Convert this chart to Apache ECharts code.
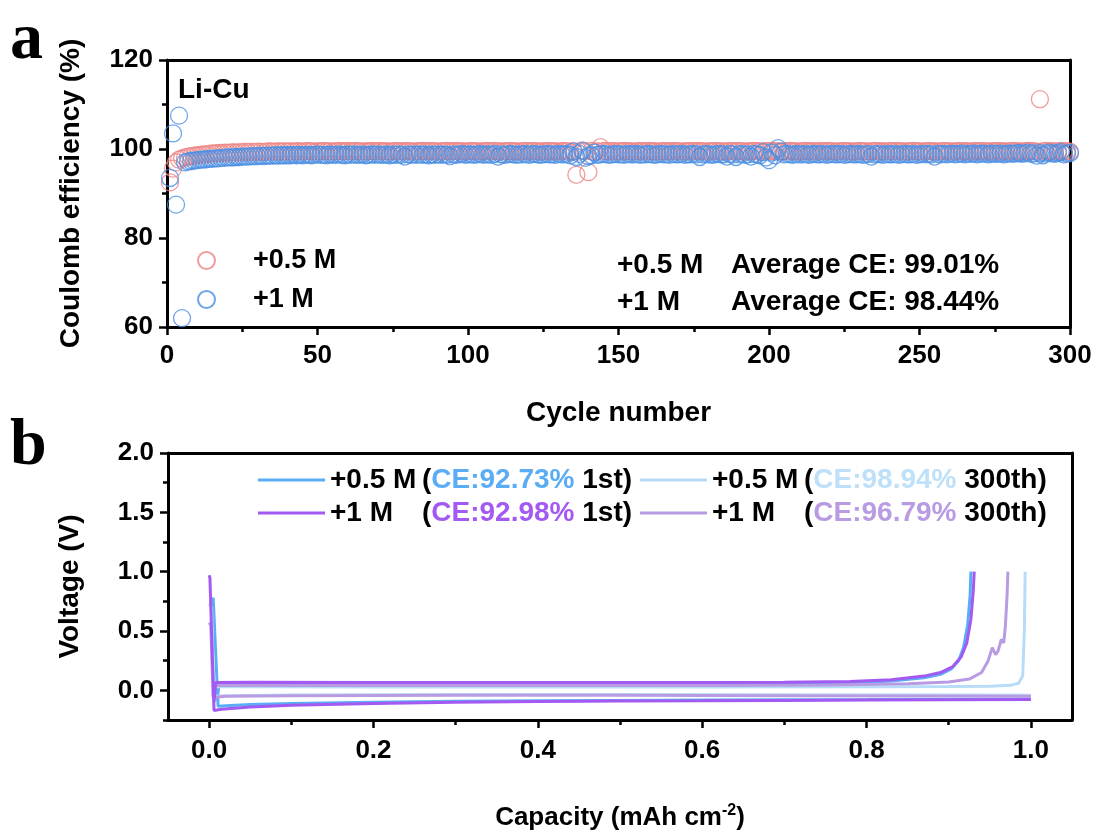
<!DOCTYPE html>
<html>
<head>
<meta charset="utf-8">
<script src="https://cdn.jsdelivr.net/npm/echarts@6/dist/echarts.min.js"></script>
<style>html,body{margin:0;padding:0;background:#fff}#c{width:1099px;height:832px}</style>
</head>
<body>
<div id="c"></div>
<script>
// ---------- Panel a: Coulombic efficiency per cycle (cycle 1..300) ----------
const ceHalfM = [
92.5,95.6,97.0,97.6,97.9,98.1,98.3,98.4,98.5,98.6,98.7,98.8,98.8,98.9,99.0,99.0,99.1,99.1,99.2,99.2,
99.2,99.3,99.2,99.3,99.3,99.4,99.3,99.4,99.3,99.4,99.4,99.3,99.4,99.5,99.4,99.4,99.5,99.4,99.5,99.4,
99.5,99.4,99.5,99.5,99.4,99.5,99.6,99.5,99.4,99.5,99.5,99.6,99.5,99.5,99.4,99.5,99.6,99.5,99.5,99.6,
99.5,99.5,99.6,99.5,99.4,99.5,99.5,99.6,99.5,99.5,99.6,99.5,99.5,99.4,99.5,99.6,99.5,99.5,99.5,99.6,
99.5,99.4,99.5,99.5,99.6,99.5,99.5,99.6,99.5,99.4,99.5,99.5,99.6,99.5,99.5,99.6,99.5,99.5,99.4,99.5,
99.6,99.5,99.5,99.4,99.5,99.6,99.5,99.5,99.6,99.5,99.4,99.5,99.5,99.6,99.5,99.5,99.4,99.5,99.6,99.5,
99.5,99.6,99.5,99.4,99.5,99.5,99.6,99.5,99.5,99.4,99.5,99.6,99.5,99.3,99.6,94.2,99.4,99.7,99.5,94.8,
99.6,99.4,99.5,100.4,99.6,99.5,99.5,99.6,99.4,99.5,99.5,99.6,99.5,99.5,99.4,99.5,99.6,99.5,99.5,99.6,
99.5,99.5,99.4,99.5,99.6,99.5,99.5,99.5,99.6,99.5,99.4,99.5,99.5,99.6,99.5,99.5,99.6,99.5,99.4,99.5,
99.5,99.6,99.5,99.5,99.4,99.5,99.6,99.5,99.5,99.6,99.5,99.4,99.5,99.5,99.6,99.5,99.5,99.4,99.6,99.5,
99.5,99.6,99.5,99.4,99.5,99.5,99.6,99.5,99.5,99.4,99.5,99.6,99.5,99.5,99.5,99.4,99.6,99.5,99.5,99.6,
99.5,99.4,99.5,99.5,99.6,99.5,99.5,99.4,99.5,99.6,99.5,99.5,99.4,99.5,99.6,99.5,99.5,99.5,99.4,99.6,
99.5,99.5,99.6,99.5,99.4,99.5,99.5,99.6,99.5,99.5,99.4,99.5,99.6,99.5,99.5,99.4,99.5,99.6,99.5,99.5,
99.4,99.5,99.6,99.5,99.5,99.5,99.4,99.6,99.5,99.5,99.6,99.5,99.4,99.5,99.5,99.6,99.5,99.5,99.4,99.5,
99.6,99.5,99.5,99.4,99.5,99.6,99.5,99.5,99.4,111.2,99.5,99.6,99.5,99.5,99.4,99.5,99.6,99.5,99.5,99.4
];
const ceOneM = [
93.5,103.5,87.5,107.5,62.0,97.0,97.2,97.3,97.4,97.5,97.6,97.6,97.7,97.8,97.8,97.9,97.9,98.0,98.0,98.1,
98.1,98.1,98.2,98.2,98.3,98.3,98.3,98.4,98.4,98.4,98.5,98.4,98.5,98.5,98.5,98.6,98.5,98.6,98.6,98.6,
98.6,98.7,98.6,98.7,98.6,98.7,98.7,98.6,98.7,98.8,98.7,98.7,98.6,98.8,98.7,98.7,98.8,98.7,98.6,98.8,
98.7,98.8,98.7,98.7,98.8,98.6,98.7,98.8,98.7,98.8,98.7,98.7,98.8,98.6,98.8,98.7,98.8,98.7,98.3,98.8,
98.7,98.8,98.7,98.8,98.7,98.8,98.6,98.8,98.7,98.8,98.7,98.8,98.7,98.4,98.8,98.7,98.8,98.9,98.7,98.8,
98.8,98.7,98.8,98.9,98.7,98.8,98.8,98.7,98.9,98.3,98.8,98.7,98.8,98.9,98.8,98.7,98.8,98.8,98.9,98.7,
98.8,98.9,98.8,98.7,98.8,98.9,98.8,98.8,98.7,98.9,98.8,98.8,98.9,98.6,99.4,98.2,98.9,99.6,98.0,98.4,
98.6,99.2,98.7,98.8,98.9,98.8,98.7,98.8,98.9,98.8,98.8,98.7,98.9,98.8,98.8,98.9,98.7,98.8,98.8,98.9,
98.8,98.7,98.8,98.9,98.8,98.8,98.7,98.9,98.8,98.8,98.9,98.7,98.8,98.8,98.9,98.8,98.2,98.8,98.9,98.8,
98.7,98.8,98.9,98.8,98.8,98.3,98.9,98.8,98.2,98.8,98.9,98.7,98.8,98.3,98.9,98.8,98.6,99.3,98.1,97.5,
99.2,98.6,100.2,99.4,98.8,98.9,98.8,98.7,98.9,98.8,98.8,98.9,98.7,98.8,98.9,98.8,98.8,98.9,98.7,98.8,
98.9,98.8,98.8,98.9,98.7,98.8,98.9,98.8,98.8,98.9,98.7,98.8,98.9,98.3,98.8,98.9,98.8,98.7,98.9,98.8,
98.8,98.9,98.7,98.8,98.9,98.8,98.8,98.9,98.7,98.8,98.9,98.8,98.9,98.8,98.3,98.9,98.8,98.9,98.8,98.9,
98.9,98.8,98.9,99.0,98.8,98.9,98.9,99.0,98.8,98.9,99.0,98.9,98.8,99.0,98.9,98.9,99.0,98.8,98.9,99.0,
98.9,99.0,99.1,98.9,99.0,99.2,98.9,99.0,98.5,99.1,98.6,99.0,99.2,99.0,98.9,99.1,99.3,98.8,99.0,99.1
];
const cycleTicksA = [0, 50, 100, 150, 200, 250, 300];
const ceTicksA = [60, 80, 100, 120];

// ---------- Panel b: voltage profiles (capacity, voltage) ----------
// plating segments
const p05_1st_cap = [0.003,0.005,0.011,0.02,0.05,0.1,0.2,0.3,0.4,0.5,0.6,0.7,0.8,0.9,1.0];
const p05_1st_v   = [0.75,0.78,-0.135,-0.13,-0.12,-0.11,-0.10,-0.092,-0.088,-0.085,-0.082,-0.08,-0.078,-0.075,-0.072];
const p05_300_cap = [0.000,0.003,0.006,0.02,0.1,0.3,0.5,0.7,0.9,1.0];
const p05_300_v   = [0.73,0.70,-0.05,-0.045,-0.04,-0.035,-0.035,-0.037,-0.04,-0.042];
const p1_1st_cap  = [0.000,0.001,0.006,0.015,0.05,0.1,0.2,0.3,0.4,0.5,0.6,0.7,0.8,0.9,1.0];
const p1_1st_v    = [0.97,0.95,-0.17,-0.16,-0.14,-0.125,-0.11,-0.10,-0.095,-0.09,-0.088,-0.085,-0.082,-0.08,-0.078];
const p1_300_cap  = [0.000,0.002,0.005,0.02,0.1,0.3,0.5,0.7,0.9,1.0];
const p1_300_v    = [0.57,0.55,-0.06,-0.05,-0.045,-0.042,-0.042,-0.045,-0.048,-0.05];
// stripping segments
const s05_1st_cap = [0.01,0.012,0.05,0.2,0.4,0.6,0.7,0.78,0.83,0.87,0.89,0.903,0.912,0.918,0.923,0.926,0.927];
const s05_1st_v   = [-0.085,0.055,0.055,0.052,0.052,0.053,0.055,0.062,0.078,0.105,0.135,0.18,0.25,0.36,0.55,0.8,1.0];
const s05_300_cap = [0.004,0.006,0.05,0.2,0.4,0.6,0.8,0.9,0.95,0.975,0.985,0.99,0.992,0.993];
const s05_300_v   = [-0.04,0.03,0.03,0.028,0.028,0.028,0.03,0.032,0.035,0.042,0.06,0.12,0.5,1.0];
const s1_1st_cap  = [0.006,0.008,0.05,0.2,0.4,0.6,0.7,0.78,0.83,0.87,0.89,0.905,0.915,0.922,0.927,0.93,0.931];
const s1_1st_v    = [-0.1,0.065,0.068,0.066,0.065,0.066,0.068,0.075,0.09,0.12,0.15,0.2,0.28,0.4,0.6,0.85,1.0];
const s1_300_cap  = [0.005,0.007,0.05,0.2,0.4,0.6,0.75,0.85,0.9,0.925,0.94,0.948,0.953,0.957,0.96,0.964,0.967,0.969,0.971,0.972];
const s1_300_v    = [-0.05,0.04,0.042,0.04,0.04,0.041,0.045,0.055,0.07,0.095,0.15,0.25,0.36,0.3,0.33,0.43,0.4,0.55,0.8,1.0];

const capTicksB = [0, 0.2, 0.4, 0.6, 0.8, 1.0];
const capMinorB = [0.1, 0.3, 0.5, 0.7, 0.9];
const vTicksB = [0, 0.5, 1.0, 1.5, 2.0];
const vMinorB = [-0.25, 0.25, 0.75, 1.25, 1.75];

const legendConc = ['+0.5 M', '+0.5 M', '+1 M', '+1 M'];
const legendCE = ['CE:92.73%', 'CE:98.94%', 'CE:92.98%', 'CE:96.79%'];
const legendCyc = ['1st', '300th', '1st', '300th'];
const avgLabels = ['+0.5 M', '+1 M'];
const avgTexts = ['Average CE: 99.01%', 'Average CE: 98.44%'];

const FONT = "'Liberation Sans', Arial, sans-serif";
const colRed = '#EE8585', colBlue = '#4A8FE3';
const lineCols = ['#5AADF4', '#B7DCF8', '#A35AF2', '#B89BE2'];
const ceTextCols = ['#5AADF4', '#BEE0F9', '#A35AF2', '#B89BE2'];

const pair = (xs, ys) => xs.map((x, i) => [x, ys[i]]);
const seriesNamesB = legendConc.map((c, i) => `${c} (${legendCE[i]} ${legendCyc[i]})`);

const axisLineStyle = { lineStyle: { color: '#000', width: 3 } };
const tickStyle = { lineStyle: { color: '#000', width: 2.5 } };
const labelStyle = { color: '#000', fontSize: 26, fontWeight: 'bold', fontFamily: FONT };
const nameStyle = { color: '#000', fontSize: 28, fontWeight: 'bold', fontFamily: FONT };

const chart = echarts.init(document.getElementById('c'), null, { renderer: 'canvas' });

const frameX = (gi) => ({ gridIndex: gi, type: 'value', position: 'top', show: true,
  axisLine: { show: true, onZero: false, ...axisLineStyle }, axisTick: { show: false },
  axisLabel: { show: false }, splitLine: { show: false } });
const frameY = (gi) => ({ gridIndex: gi, type: 'value', position: 'right', show: true,
  axisLine: { show: true, onZero: false, ...axisLineStyle }, axisTick: { show: false },
  axisLabel: { show: false }, splitLine: { show: false } });

const seriesB = [];
const plate = [[p05_1st_cap, p05_1st_v], [p05_300_cap, p05_300_v], [p1_1st_cap, p1_1st_v], [p1_300_cap, p1_300_v]];
const strip = [[s05_1st_cap, s05_1st_v], [s05_300_cap, s05_300_v], [s1_1st_cap, s1_1st_v], [s1_300_cap, s1_300_v]];
const drawOrder = [0, 1, 3, 2];
drawOrder.forEach(i => {
  [plate[i], strip[i]].forEach(seg => {
    seriesB.push({
      name: seriesNamesB[i], type: 'line', xAxisIndex: 2, yAxisIndex: 2,
      data: pair(seg[0], seg[1]), symbol: 'none', showSymbol: false,
      lineStyle: { color: lineCols[i], width: 3 }, itemStyle: { color: lineCols[i] },
      animation: false, z: 3
    });
  });
});

const LF = 28;
const legendB = [
  { i: 0, left: 258, top: 466 }, { i: 1, left: 640, top: 466 },
  { i: 2, left: 258, top: 499 }, { i: 3, left: 640, top: 499 }
].map(o => ({
  data: [seriesNamesB[o.i]], left: o.left, top: o.top, padding: 0,
  icon: 'rect', itemWidth: 67, itemHeight: 3, itemGap: 0, selectedMode: false,
  formatter: () => `{m|${legendConc[o.i]}}{t|(}{c|${legendCE[o.i]}}{t| ${legendCyc[o.i]})}`,
  textStyle: {
    fontFamily: FONT, fontWeight: 'bold', fontSize: LF, color: '#000',
    rich: {
      m: { width: 92, fontFamily: FONT, fontWeight: 'bold', fontSize: LF, color: '#000', lineHeight: 30 },
      t: { fontFamily: FONT, fontWeight: 'bold', fontSize: LF, color: '#000', lineHeight: 30 },
      c: { fontFamily: FONT, fontWeight: 'bold', fontSize: LF, color: ceTextCols[o.i], lineHeight: 30 }
    }
  }
}));

const legendA = [
  { name: '+0.5 M', top: 247 }, { name: '+1 M', top: 286 }
].map(o => ({
  data: [o.name], left: 197, top: o.top, padding: 0, itemWidth: 17, itemHeight: 17,
  selectedMode: false,
  formatter: n => `{s|}{n|${n}}`,
  textStyle: {
    fontFamily: FONT, fontWeight: 'bold', fontSize: 27, color: '#000',
    rich: { s: { width: 33, lineHeight: 30 }, n: { fontFamily: FONT, fontWeight: 'bold', fontSize: 27, color: '#000', lineHeight: 30 } }
  }
}));

const option = {
  backgroundColor: '#fff',
  animation: false,
  grid: [
    { left: 167, top: 60, width: 903, height: 267, containLabel: false },
    { left: 168, top: 453, width: 904, height: 267, containLabel: false }
  ],
  legend: [...legendA, ...legendB],
  xAxis: [
    { gridIndex: 0, type: 'value', min: cycleTicksA[0], max: cycleTicksA[cycleTicksA.length - 1], interval: 50,
      name: 'Cycle number', nameLocation: 'middle', nameGap: 72, nameTextStyle: nameStyle,
      axisLine: { show: true, onZero: false, ...axisLineStyle },
      axisTick: { show: true, inside: false, length: 8, ...tickStyle },
      minorTick: { show: true, splitNumber: 2, length: 5, lineStyle: { color: '#000', width: 2.5 } },
      axisLabel: { ...labelStyle, margin: 16 }, splitLine: { show: false } },
    frameX(0),
    { gridIndex: 1, type: 'value', min: -0.05, max: 1.05,
      name: '{n|Capacity (mAh cm}{s|-2}{n|)}', nameLocation: 'middle', nameGap: 83,
      nameTextStyle: { ...nameStyle, rich: {
        n: { ...nameStyle, fontSize: 26 },
        s: { ...nameStyle, fontSize: 16, verticalAlign: 'top', padding: [0, 0, 14, 0] } } },
      axisLine: { show: true, onZero: false, ...axisLineStyle },
      axisTick: { show: true, length: 8, customValues: capTicksB, ...tickStyle },
      axisLabel: { ...labelStyle, margin: 18, customValues: capTicksB, formatter: v => Number(v).toFixed(1) },
      splitLine: { show: false } },
    frameX(1),
    { gridIndex: 1, type: 'value', min: -0.05, max: 1.05, position: 'bottom',
      axisLine: { show: false, onZero: false }, axisTick: { show: true, length: 5, customValues: capMinorB, ...tickStyle },
      axisLabel: { show: false }, splitLine: { show: false } }
  ],
  yAxis: [
    { gridIndex: 0, type: 'value', min: ceTicksA[0], max: ceTicksA[ceTicksA.length - 1], interval: 20,
      name: 'Coulomb efficiency (%)', nameLocation: 'middle', nameGap: 82, nameTextStyle: nameStyle,
      axisLine: { show: true, onZero: false, ...axisLineStyle },
      axisTick: { show: true, length: 8, ...tickStyle },
      minorTick: { show: true, splitNumber: 2, length: 5, lineStyle: { color: '#000', width: 2.5 } },
      axisLabel: { ...labelStyle, margin: 14 }, splitLine: { show: false } },
    frameY(0),
    { gridIndex: 1, type: 'value', min: -0.25, max: 2.0,
      name: 'Voltage (V)', nameLocation: 'middle', nameGap: 84, nameTextStyle: nameStyle,
      axisLine: { show: true, onZero: false, ...axisLineStyle },
      axisTick: { show: true, length: 8, customValues: vTicksB, ...tickStyle },
      axisLabel: { ...labelStyle, margin: 14, customValues: vTicksB, formatter: v => Number(v).toFixed(1) },
      splitLine: { show: false } },
    frameY(1),
    { gridIndex: 1, type: 'value', min: -0.25, max: 2.0, position: 'left',
      axisLine: { show: false, onZero: false }, axisTick: { show: true, length: 5, customValues: vMinorB, ...tickStyle },
      axisLabel: { show: false }, splitLine: { show: false } }
  ],
  series: [
    { name: '+0.5 M', type: 'scatter', xAxisIndex: 0, yAxisIndex: 0,
      data: ceHalfM.map((v, i) => [i + 1, v]), symbol: 'circle', symbolSize: 17,
      itemStyle: { color: 'rgba(255,255,255,0)', borderColor: colRed, borderWidth: 1.3 }, z: 2 },
    { name: '+1 M', type: 'scatter', xAxisIndex: 0, yAxisIndex: 0,
      data: ceOneM.map((v, i) => [i + 1, v]), symbol: 'circle', symbolSize: 17,
      itemStyle: { color: 'rgba(255,255,255,0)', borderColor: colBlue, borderWidth: 1.3 }, z: 3 },
    ...seriesB
  ],
  graphic: [
    { type: 'text', left: 10, top: 8, style: { text: 'a', font: "bold 66px 'Liberation Serif', 'Times New Roman', serif", fill: '#000' } },
    { type: 'text', left: 10, top: 414, style: { text: 'b', font: "bold 66px 'Liberation Serif', 'Times New Roman', serif", fill: '#000' } },
    { type: 'text', left: 178, top: 76, style: { text: 'Li-Cu', font: `bold 28px ${FONT}`, fill: '#000' } },
    { type: 'text', left: 617, top: 251, style: { text: avgLabels[0], font: `bold 28px ${FONT}`, fill: '#000' } },
    { type: 'text', left: 731, top: 251, style: { text: avgTexts[0], font: `bold 28px ${FONT}`, fill: '#000' } },
    { type: 'text', left: 617, top: 288, style: { text: avgLabels[1], font: `bold 28px ${FONT}`, fill: '#000' } },
    { type: 'text', left: 731, top: 288, style: { text: avgTexts[1], font: `bold 28px ${FONT}`, fill: '#000' } }
  ]
};
chart.setOption(option);
</script>
</body>
</html>
